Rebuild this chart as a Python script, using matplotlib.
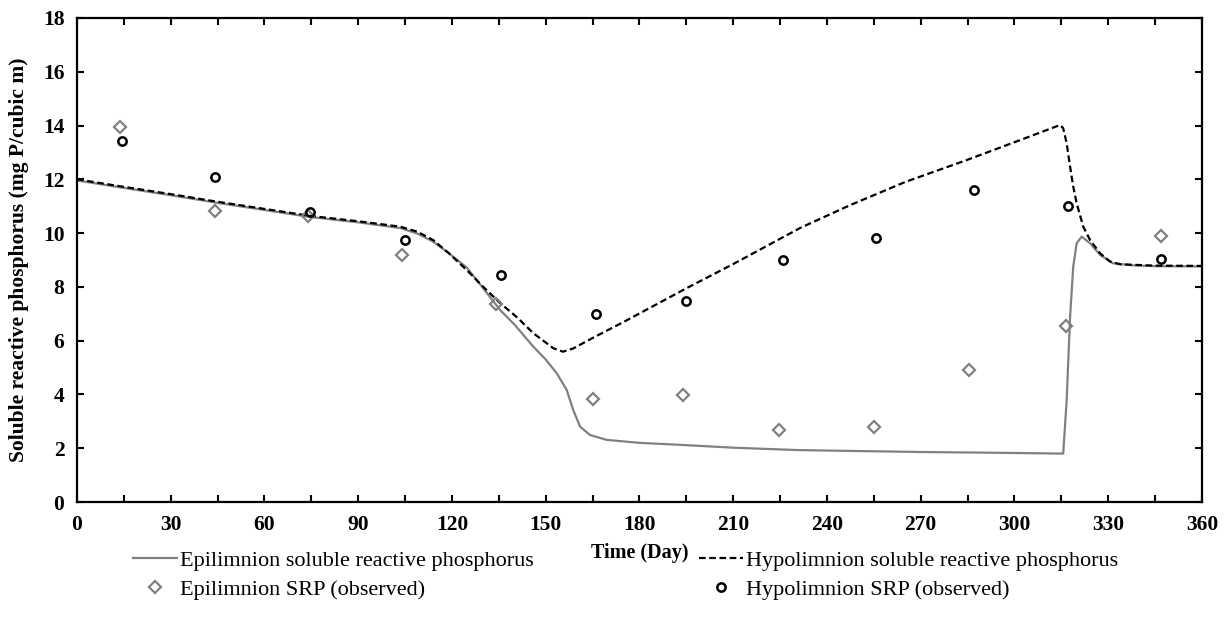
import matplotlib
matplotlib.use("Agg")
import matplotlib.pyplot as plt
from matplotlib.ticker import MultipleLocator

plt.rcParams['font.family'] = ['Liberation Serif', 'DejaVu Serif']

# model curves
epi_day = [0, 15, 30, 44.7, 60, 74.6, 90, 103.4, 109, 114, 119, 124.7, 130, 135.4, 140, 146, 150,
           153.5, 156.7, 158.8, 161, 164.2, 169.5, 180, 194, 210, 231, 247.4, 270, 295, 315.6,
           316.7, 317.8, 318.8, 319.9, 321.5, 324.2, 327.4, 331.5, 337.9, 345, 360]
epi_srp = [11.96, 11.68, 11.41, 11.13, 10.86, 10.6, 10.4, 10.19, 9.98, 9.68, 9.25, 8.72,
           7.95, 7.14, 6.6, 5.78, 5.3, 4.79, 4.17, 3.42, 2.8, 2.49, 2.31, 2.2, 2.12, 2.02, 1.93,
           1.9, 1.86, 1.83, 1.8, 3.79, 6.89, 8.75, 9.62, 9.87, 9.62, 9.19, 8.88, 8.8, 8.77, 8.76]

hypo_day = [0, 15, 30, 44.7, 60, 74.6, 90, 103.4, 109, 114, 119, 124.7, 130, 135.4, 141, 146,
            152.4, 155.5, 158.8, 165, 175, 195.2, 210, 231.4, 247.4, 265, 284.8, 300, 314.6,
            315.6, 316.7, 317.8, 318.8, 319.9, 322, 324.2, 327.4, 330.6, 333.8, 345, 360]
hypo_srp = [12.0, 11.72, 11.45, 11.17, 10.9, 10.64, 10.44, 10.24, 10.05, 9.74, 9.25, 8.63, 8.0,
            7.4, 6.85, 6.28, 5.72, 5.59, 5.71, 6.1, 6.7, 7.96, 8.85, 10.19, 11.04, 11.9, 12.72,
            13.38, 14.02, 13.9, 13.34, 12.47, 11.73, 11.11, 10.24, 9.74, 9.25, 8.94, 8.84,
            8.79, 8.78]

# observations
epi_obs_day = [13.8, 44.2, 74, 104, 134, 165, 194, 224.6, 255, 285.4, 316.5, 347]
epi_obs_srp = [13.95, 10.82, 10.65, 9.2, 7.35, 3.83, 3.98, 2.68, 2.79, 4.9, 6.55, 9.9]

hypo_obs_day = [14.4, 44.2, 74.6, 105, 135.7, 166, 195, 226, 255.7, 287, 317, 347]
hypo_obs_srp = [13.42, 12.09, 10.78, 9.74, 8.46, 6.99, 7.47, 9.0, 9.82, 11.6, 11.0, 9.04]

fig = plt.figure(figsize=(12.26, 6.29), dpi=100)
ax = fig.add_axes([0.0628, 0.2019, 0.9176, 0.7695])

l1, = ax.plot(epi_day, epi_srp, color='#808080', lw=1.6,
              label='Epilimnion soluble reactive phosphorus')
l2, = ax.plot(hypo_day, hypo_srp, color='black', lw=1.6, ls=(0, (3, 1.6)),
              label='Hypolimnion soluble reactive phosphorus')
m1, = ax.plot(epi_obs_day, epi_obs_srp, ls='none', marker='D', ms=6.5, mfc='none', mec='#808080',
              mew=1.6, label='Epilimnion SRP (observed)')
m2, = ax.plot(hypo_obs_day, hypo_obs_srp, ls='none', marker='o', ms=6, mfc='none', mec='black',
              mew=1.8, label='Hypolimnion SRP (observed)')

ax.set_xlim(0, 360)
ax.set_ylim(0, 18)
ax.xaxis.set_major_locator(MultipleLocator(30))
ax.xaxis.set_minor_locator(MultipleLocator(15))
ax.yaxis.set_major_locator(MultipleLocator(2))
ax.tick_params(which='both', direction='in', top=True, right=True, width=1.5)
ax.tick_params(which='major', length=5, labelsize=15.5, pad=9)
ax.tick_params(which='minor', length=5)
for t in ax.get_xticklabels() + ax.get_yticklabels():
    t.set_fontweight('bold')
for s in ax.spines.values():
    s.set_linewidth(1.6)

ax.set_xlabel('Time (Day)', fontsize=14.5, fontweight='bold', labelpad=6)
ax.set_ylabel('Soluble reactive phosphorus (mg P/cubic m)', fontsize=15.5, fontweight='bold',
              labelpad=10)

fig.legend([l1, m1, l2, m2], [h.get_label() for h in (l1, m1, l2, m2)],
           loc='upper left', bbox_to_anchor=(133 / 1226, 1 - 550 / 629), ncol=2,
           frameon=False, fontsize=16, handlelength=2.0, handletextpad=0.1,
           columnspacing=7.45, labelspacing=0.4, borderpad=0, borderaxespad=0)

fig.savefig('out.png', dpi=100)
